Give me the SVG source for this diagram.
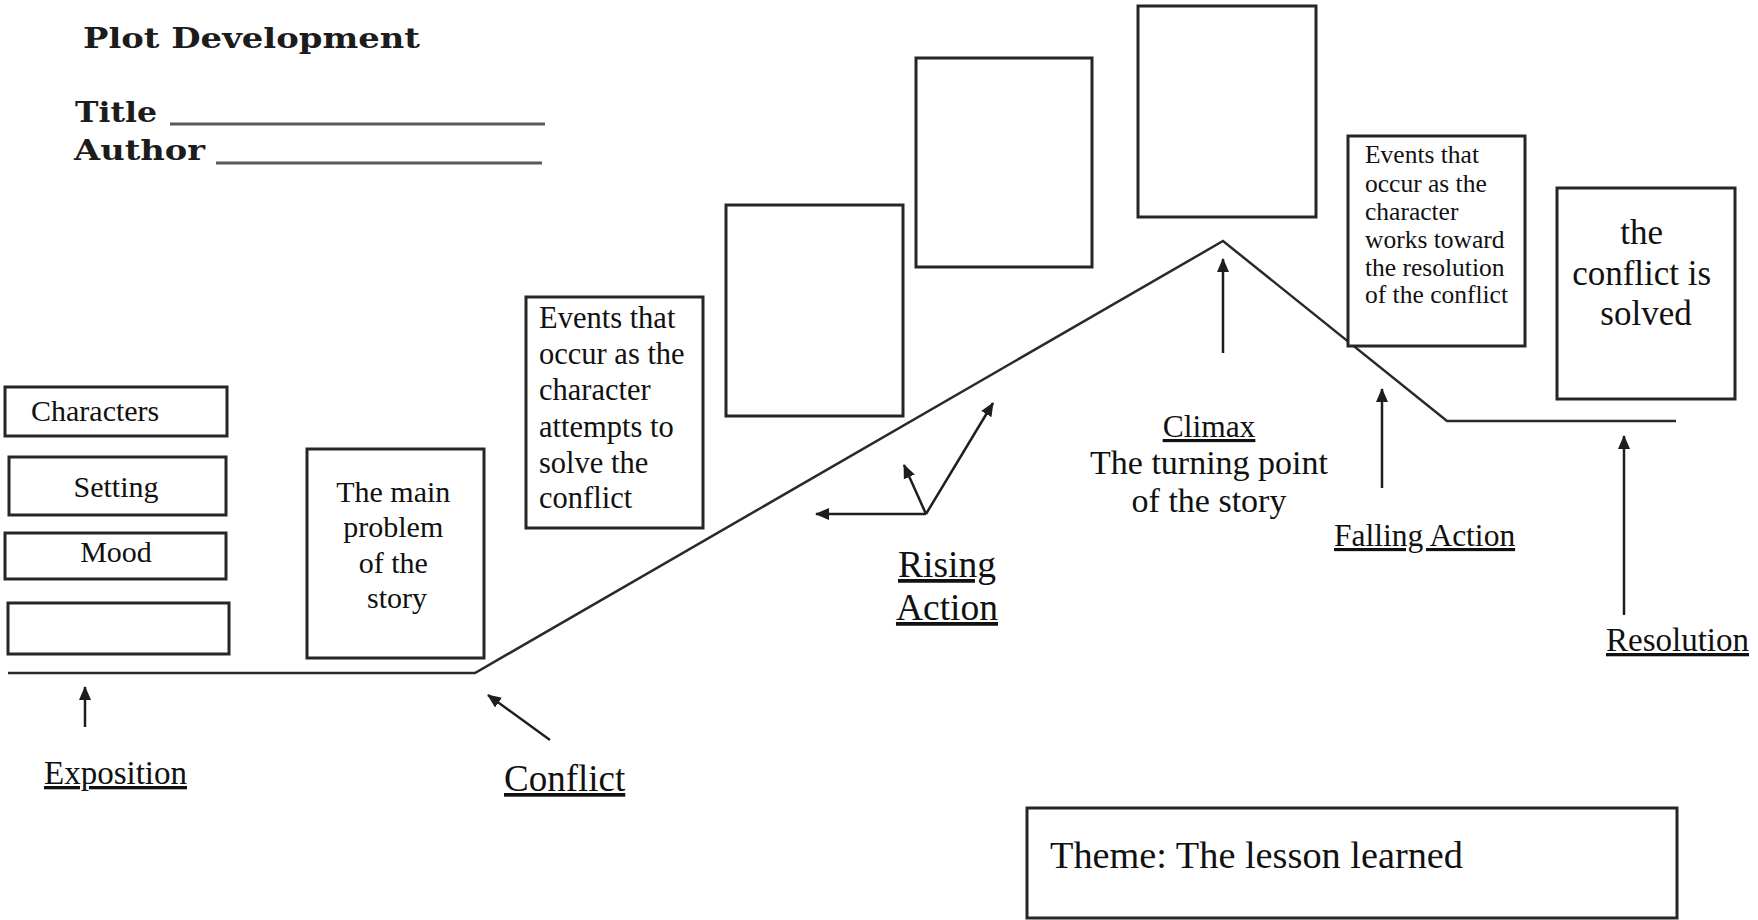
<svg xmlns="http://www.w3.org/2000/svg" width="1758" height="920" viewBox="0 0 1758 920">
  <style>
    .box { fill: #ffffff; stroke: #262626; stroke-width: 3; }
    .t { font-family: "Liberation Serif", "Times New Roman", serif; fill: #111111; }
    .hd { font-family: "DejaVu Serif", "Liberation Serif", serif; font-weight: bold; fill: #1c1c1c; }
    .u { text-decoration: underline; }
    .ln { fill: none; stroke: #2a2a2a; stroke-width: 2.5; }
    .blank { stroke: #5a5a5a; stroke-width: 3; }
    .ar { fill: none; stroke: #1e1e1e; stroke-width: 2.5; marker-end: url(#ah); }
  </style>
  <defs>
    <marker id="ah" viewBox="0 0 14 12" refX="13" refY="6" markerWidth="14" markerHeight="12" markerUnits="userSpaceOnUse" orient="auto">
      <path d="M0,0 L14,6 L0,12 z" fill="#1e1e1e"/>
    </marker>
  </defs>
  <rect width="1758" height="920" fill="#ffffff"/>

  <g id="header">
    <text class="hd" x="83" y="48" font-size="27" textLength="337" lengthAdjust="spacingAndGlyphs">Plot Development</text>
    <text class="hd" x="75" y="122" font-size="27" textLength="82" lengthAdjust="spacingAndGlyphs">Title</text>
    <line class="blank" x1="170" y1="124" x2="545" y2="124"/>
    <text class="hd" x="74" y="160" font-size="27" textLength="131" lengthAdjust="spacingAndGlyphs">Author</text>
    <line class="blank" x1="216" y1="163" x2="542" y2="163"/>
  </g>

  <g id="connectors">
    <polyline id="plot-line" class="ln" points="8,673 475,673 1223,241 1447,421 1676,421"/>
    <line id="arrow-exposition" class="ar" x1="85" y1="727" x2="85" y2="687"/>
    <line id="arrow-conflict" class="ar" x1="550" y1="740" x2="488" y2="695"/>
    <line id="arrow-rising-left" class="ar" x1="926" y1="514" x2="816" y2="514"/>
    <line id="arrow-rising-short" class="ar" x1="926" y1="514" x2="904" y2="465"/>
    <line id="arrow-rising-long" class="ar" x1="926" y1="514" x2="993" y2="403"/>
    <line id="arrow-climax" class="ar" x1="1223" y1="353" x2="1223" y2="259"/>
    <line id="arrow-falling" class="ar" x1="1382" y1="488" x2="1382" y2="389"/>
    <line id="arrow-resolution" class="ar" x1="1624" y1="615" x2="1624" y2="436"/>
  </g>

  <g id="node-characters">
    <rect class="box" x="5" y="387" width="222" height="49"/>
    <text class="t" x="31" y="421" font-size="30">Characters</text>
  </g>
  <g id="node-setting">
    <rect class="box" x="9" y="457" width="217" height="58"/>
    <text class="t" x="116" y="497" font-size="30" text-anchor="middle">Setting</text>
  </g>
  <g id="node-mood">
    <rect class="box" x="5" y="533" width="221" height="46"/>
    <text class="t" x="116" y="562" font-size="30" text-anchor="middle">Mood</text>
  </g>
  <g id="node-blank-exposition">
    <rect class="box" x="8" y="603" width="221" height="51"/>
  </g>

  <g id="node-main-problem">
    <rect class="box" x="307" y="449" width="177" height="209"/>
    <text class="t" font-size="30" text-anchor="middle">
      <tspan x="397" y="502">The main</tspan>
      <tspan x="397" y="537">problem</tspan>
      <tspan x="397" y="573">of the</tspan>
      <tspan x="397" y="608">story</tspan>
    </text>
  </g>

  <g id="node-rising-events">
    <rect class="box" x="526" y="297" width="177" height="231"/>
    <text class="t" font-size="30.5">
      <tspan x="539" y="328">Events that</tspan>
      <tspan x="539" y="364">occur as the</tspan>
      <tspan x="539" y="400">character</tspan>
      <tspan x="539" y="437">attempts to</tspan>
      <tspan x="539" y="473">solve the</tspan>
      <tspan x="539" y="508">conflict</tspan>
    </text>
  </g>
  <g id="node-rising-blank-1">
    <rect class="box" x="726" y="205" width="177" height="211"/>
  </g>
  <g id="node-rising-blank-2">
    <rect class="box" x="916" y="58" width="176" height="209"/>
  </g>
  <g id="node-climax-blank">
    <rect class="box" x="1138" y="6" width="178" height="211"/>
  </g>
  <g id="node-falling-events">
    <rect class="box" x="1348" y="136" width="177" height="210"/>
    <text class="t" font-size="25.5">
      <tspan x="1365" y="163">Events that</tspan>
      <tspan x="1365" y="192">occur as the</tspan>
      <tspan x="1365" y="220">character</tspan>
      <tspan x="1365" y="248">works toward</tspan>
      <tspan x="1365" y="276">the resolution</tspan>
      <tspan x="1365" y="303">of the conflict</tspan>
    </text>
  </g>
  <g id="node-resolved">
    <rect class="box" x="1557" y="188" width="178" height="211"/>
    <text class="t" font-size="35" text-anchor="middle">
      <tspan x="1646" y="244">the</tspan>
      <tspan x="1646" y="285">conflict is</tspan>
      <tspan x="1646" y="325">solved</tspan>
    </text>
  </g>

  <g id="label-exposition">
    <text class="t u" x="44" y="784" font-size="33">Exposition</text>
  </g>
  <g id="label-conflict">
    <text class="t u" x="504" y="791" font-size="37">Conflict</text>
  </g>
  <g id="label-rising-action">
    <text class="t u" x="947" y="577" font-size="37.5" text-anchor="middle">Rising</text>
    <text class="t u" x="947" y="620" font-size="37.5" text-anchor="middle">Action</text>
  </g>
  <g id="label-climax">
    <text class="t u" x="1209" y="437" font-size="31.5" text-anchor="middle">Climax</text>
    <text class="t" x="1209" y="474" font-size="34" text-anchor="middle">The turning point</text>
    <text class="t" x="1209" y="512" font-size="34" text-anchor="middle">of the story</text>
  </g>
  <g id="label-falling-action">
    <text class="t u" x="1334" y="546" font-size="31.5">Falling Action</text>
  </g>
  <g id="label-resolution">
    <text class="t u" x="1606" y="651" font-size="33">Resolution</text>
  </g>

  <g id="node-theme">
    <rect class="box" x="1027" y="808" width="650" height="110"/>
    <text class="t" x="1050" y="868" font-size="38.3">Theme: The lesson learned</text>
  </g>
</svg>
